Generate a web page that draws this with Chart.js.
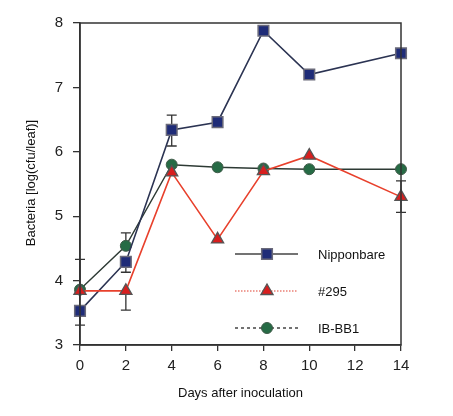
<!DOCTYPE html>
<html>
<head>
<meta charset="utf-8">
<script src="https://cdn.jsdelivr.net/npm/chart.js@4"></script>
<style>
  body { margin: 0; background: #fff; }
  #wrap { width: 453px; height: 416px; }
</style>
</head>
<body>
<div id="wrap"><canvas id="bactChart"></canvas></div>
<script>
// data
const days = [0, 2, 4, 6, 8, 10, 14];
const nipponbare = [3.53, 4.29, 6.34, 6.46, 7.88, 7.20, 7.53];
const line295 = [3.84, 3.84, 5.68, 4.64, 5.70, 5.94, 5.30];
const ibbb1 = [3.86, 4.54, 5.80, 5.76, 5.74, 5.73, 5.73];

// error bars as drawn (one-sided where only one cap shows)
const nippErrUp = [0, 0, 0.23, 0, 0, 0, 0];
const nippErrDown = [0.22, 0.16, 0.25, 0, 0, 0, 0];
const err295Up = [0, 0, 0, 0, 0, 0, 0.25];
const err295Down = [0, 0.30, 0, 0, 0, 0, 0.24];
const ibbb1ErrUp = [0.47, 0.20, 0, 0, 0, 0, 0];
const ibbb1ErrDown = [0, 0, 0, 0, 0, 0, 0];

const yTicks = [3, 4, 5, 6, 7, 8];
const xTicks = [0, 2, 4, 6, 8, 10, 12, 14];

const toPoints = (vals) => vals.map((v, i) => ({ x: days[i], y: v }));
const FONT = "'Liberation Sans', Arial, sans-serif";

// error bars + frame + legend + axis titles
const extras = {
  id: "extras",
  beforeDatasetsDraw(chart) {
    const { ctx, scales } = chart;
    const sets = [
      [nipponbare, nippErrUp, nippErrDown],
      [line295, err295Up, err295Down],
      [ibbb1, ibbb1ErrUp, ibbb1ErrDown],
    ];
    ctx.save();
    ctx.strokeStyle = "#333";
    ctx.lineWidth = 1.3;
    sets.forEach(([vals, up, down]) => {
      vals.forEach((v, i) => {
        const px = scales.x.getPixelForValue(days[i]);
        [up[i], -down[i]].forEach((d) => {
          if (!d) return;
          const y0 = scales.y.getPixelForValue(v);
          const y1 = scales.y.getPixelForValue(v + d);
          ctx.beginPath();
          ctx.moveTo(px, y0);
          ctx.lineTo(px, y1);
          ctx.moveTo(px - 5, y1);
          ctx.lineTo(px + 5, y1);
          ctx.stroke();
        });
      });
    });
    ctx.restore();
  },
  afterDraw(chart) {
    const { ctx, chartArea } = chart;
    ctx.save();
    // box
    ctx.strokeStyle = "#333";
    ctx.lineWidth = 1.5;
    ctx.strokeRect(chartArea.left, chartArea.top, chartArea.right - chartArea.left, chartArea.bottom - chartArea.top);

    // legend
    const rows = [
      { y: 254, dash: [], color: "#444", width: 1.5 },
      { y: 291, dash: [1.5, 1.5], color: "#e04030", width: 1.2 },
      { y: 328, dash: [3, 3], color: "#444", width: 1.5 },
    ];
    chart.data.datasets.forEach((ds, i) => {
      const r = rows[i];
      ctx.setLineDash(r.dash);
      ctx.strokeStyle = r.color;
      ctx.lineWidth = r.width;
      ctx.beginPath();
      ctx.moveTo(235, r.y);
      ctx.lineTo(298, r.y);
      ctx.stroke();
      ctx.setLineDash([]);
      ctx.fillStyle = ds.pointBackgroundColor;
      ctx.strokeStyle = ds.pointBorderColor;
      ctx.lineWidth = ds.pointBorderWidth;
      Chart.helpers.drawPoint(ctx, {
        pointStyle: ds.pointStyle,
        radius: ds.pointRadius,
        borderWidth: ds.pointBorderWidth,
        rotation: 0,
      }, 267, r.y);
      ctx.fillStyle = "#111";
      ctx.font = "13px " + FONT;
      ctx.textBaseline = "middle";
      ctx.fillText(ds.label, 318, r.y + 1);
    });

    // axis titles
    ctx.fillStyle = "#111";
    ctx.font = "13px " + FONT;
    ctx.textAlign = "center";
    ctx.textBaseline = "middle";
    ctx.fillText("Days after inoculation", (chartArea.left + chartArea.right) / 2, 393);
    ctx.translate(31, 183);
    ctx.rotate(-Math.PI / 2);
    ctx.fillText("Bacteria [log(cfu/leaf)]", 0, 0);
    ctx.restore();
  },
};

const ctx = document.getElementById("bactChart").getContext("2d");
const bactChart = new Chart(ctx, {
  type: "line",
  data: {
    datasets: [
      {
        label: "Nipponbare",
        data: toPoints(nipponbare),
        borderColor: "#2b3352",
        borderWidth: 1.6,
        pointStyle: "rect",
        pointRadius: 7.5,
        pointBackgroundColor: "#1f2c78",
        pointBorderColor: "#6a6a7a",
        pointBorderWidth: 1.5,
        clip: false,
        order: 2,
      },
      {
        label: "#295",
        data: toPoints(line295),
        borderColor: "#e8402c",
        borderWidth: 1.6,
        pointStyle: "triangle",
        pointRadius: 7,
        pointBackgroundColor: "#d81e1e",
        pointBorderColor: "#555",
        pointBorderWidth: 1.3,
        clip: false,
        order: 1,
      },
      {
        label: "IB-BB1",
        data: toPoints(ibbb1),
        borderColor: "#2d3a34",
        borderWidth: 1.4,
        pointStyle: "circle",
        pointRadius: 5.5,
        pointBackgroundColor: "#266b45",
        pointBorderColor: "#3f5a48",
        pointBorderWidth: 1,
        clip: false,
        order: 3,
      },
    ],
  },
  options: {
    responsive: true,
    maintainAspectRatio: false,
    animation: false,
    layout: { padding: { top: 23, right: 52, left: 0, bottom: 0 } },
    plugins: {
      legend: { display: false },
      tooltip: { enabled: false },
    },
    scales: {
      x: {
        type: "linear",
        min: 0,
        max: 14,
        afterBuildTicks: (scale) => { scale.ticks = xTicks.map((v) => ({ value: v })); },
        afterFit: (scale) => { scale.height = 71; },
        grid: { drawOnChartArea: false, tickLength: 6, color: "#333", lineWidth: 1.3 },
        border: { color: "#333", width: 1.5 },
        ticks: {
          color: "#222",
          padding: 6,
          font: { family: FONT, size: 15 },
        },
      },
      y: {
        min: 3,
        max: 8,
        afterBuildTicks: (scale) => { scale.ticks = yTicks.map((v) => ({ value: v })); },
        afterFit: (scale) => { scale.width = 80; },
        grid: { drawOnChartArea: false, tickLength: 7, color: "#333", lineWidth: 1.3 },
        border: { color: "#333", width: 1.5 },
        ticks: {
          color: "#222",
          padding: 10,
          font: { family: FONT, size: 15 },
        },
      },
    },
  },
  plugins: [extras],
});
</script>
</body>
</html>
